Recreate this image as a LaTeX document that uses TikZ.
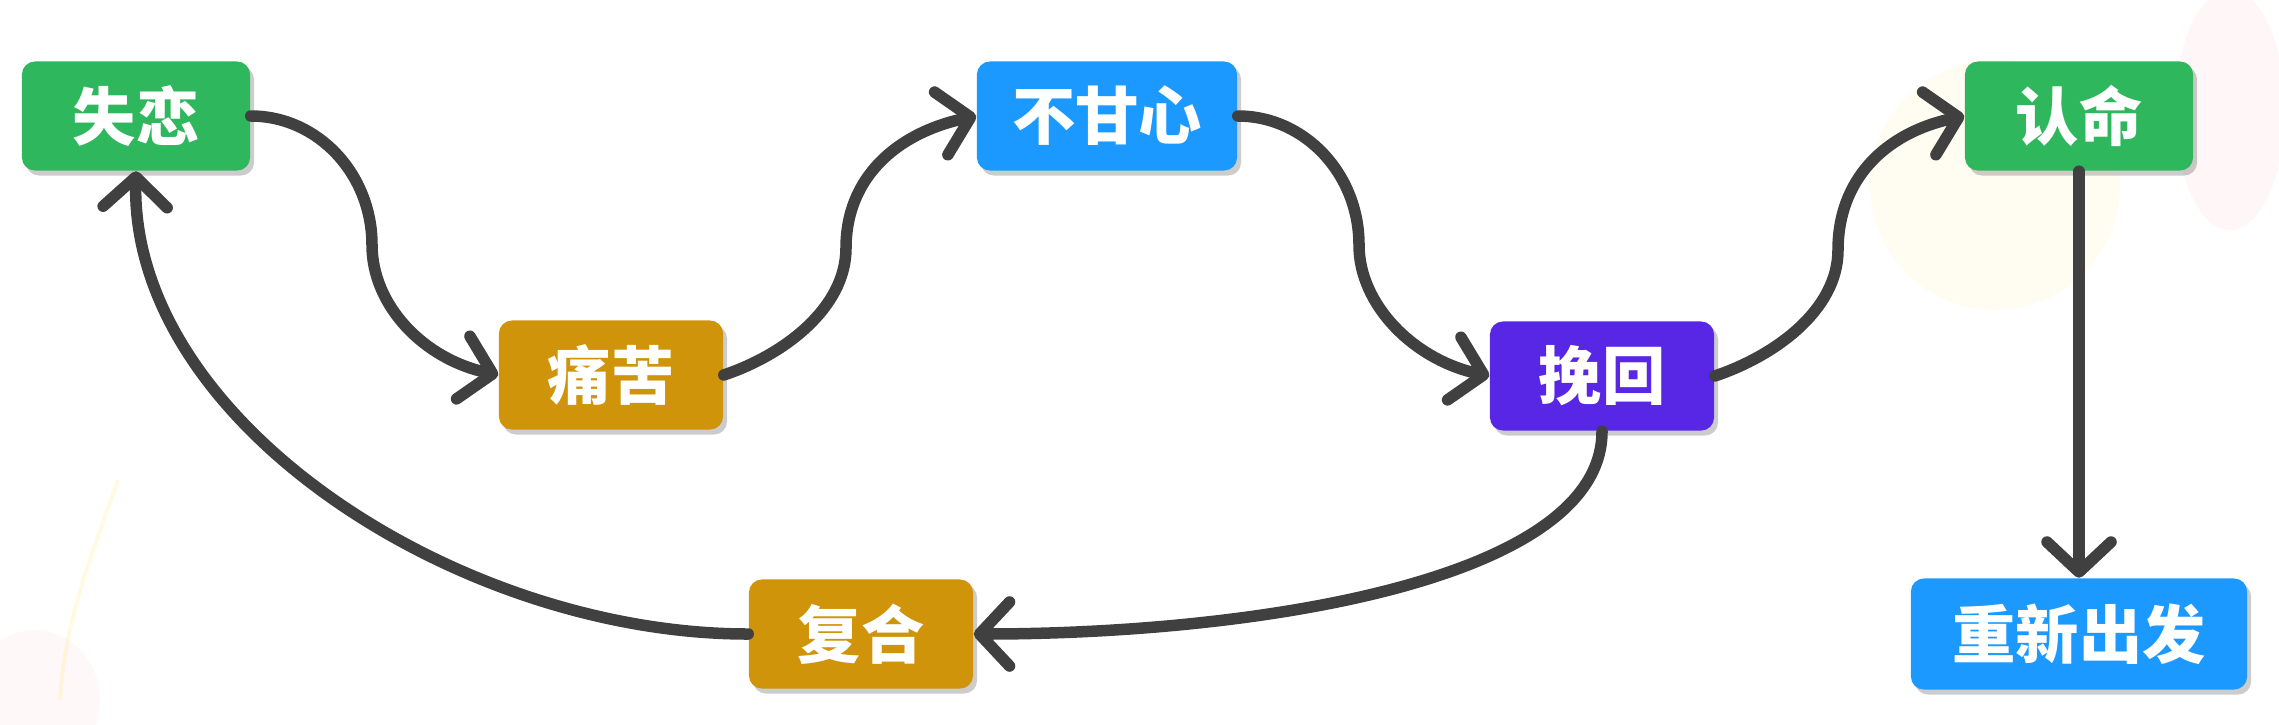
\documentclass[tikz,border=0pt]{standalone}
\usepackage{fontspec}
\newfontfamily\cjk{Noto Sans CJK SC}
\usetikzlibrary{arrows.meta,shadows}
\definecolor{cgreen}{RGB}{46,183,92}
\definecolor{cgold}{RGB}{207,148,10}
\definecolor{cblue}{RGB}{27,153,255}
\definecolor{cpurple}{RGB}{88,39,229}
\definecolor{cline}{RGB}{64,64,64}
\tikzset{
  box/.style={rectangle, rounded corners=0.13cm, fill=#1, text=white,
    minimum width=2.24cm, minimum height=1.09cm, inner sep=0pt,
    font=\cjk\bfseries\fontsize{18}{20}\selectfont,
    drop shadow={shadow xshift=0.04cm, shadow yshift=-0.05cm, opacity=0.2, fill=black}},
  conn/.style={draw=cline, line width=0.115cm, line cap=round,
    -{Straight Barb[length=0.3cm, width=0.64cm, round]}}
}
\begin{document}
\begin{tikzpicture}[x=0.01cm, y=-0.01cm]
\useasboundingbox (0,0) rectangle (2279,724);
% faint background decorations
\fill[yellow!60!orange, opacity=0.05] (1995,185) circle (125);
\fill[pink, opacity=0.12] (2230,110) ellipse (55 and 120);
\fill[pink, opacity=0.10] (35,700) ellipse (65 and 70);
\draw[yellow!70!orange, opacity=0.12, line width=0.04cm] (118,480) .. controls (90,560) and (65,620) .. (60,700);
% nodes
\node[box=cgreen, minimum width=2.28cm] (shilian) at (136,116) {失恋};
\node[box=cgold] (tongku) at (611,375) {痛苦};
\node[box=cblue, minimum width=2.6cm] (buganxin) at (1107,116) {不甘心};
\node[box=cpurple] (wanhui) at (1602,376) {挽回};
\node[box=cgreen, minimum width=2.28cm] (renming) at (2079,116) {认命};
\node[box=cblue, minimum width=3.36cm, minimum height=1.11cm] (chongxin) at (2079,634) {重新出发};
\node[box=cgold] (fuhe) at (861,634) {复合};
% turning points of the S-shaped connectors
\coordinate (m1) at (372,245);
\coordinate (m2) at (846,248);
\coordinate (m3) at (1359,245);
\coordinate (m4) at (1838,250);
% connectors
\draw[conn] (shilian.east) .. controls +(67,0) and +(0,-71) .. (m1)
  .. controls +(0,60) and +(-75,-16) .. (tongku.west);
\draw[conn] (tongku.east) .. controls +(60,-20) and +(0,60) .. (m2)
  .. controls +(0,-70) and +(-80,17) .. (buganxin.west);
\draw[conn] (buganxin.east) .. controls +(67,0) and +(0,-71) .. (m3)
  .. controls +(0,60) and +(-75,-16) .. (wanhui.west);
\draw[conn] (wanhui.east) .. controls +(60,-20) and +(0,60) .. (m4)
  .. controls +(0,-70) and +(-80,17) .. (renming.west);
\draw[conn] (renming.south) -- (chongxin.north);
\draw[conn] (wanhui.south) .. controls +(0,150) and +(278,0) .. (fuhe.east);
\draw[conn] (fuhe.west) .. controls +(-290,0) and +(-6,250) .. (shilian.south);
\end{tikzpicture}
\end{document}
